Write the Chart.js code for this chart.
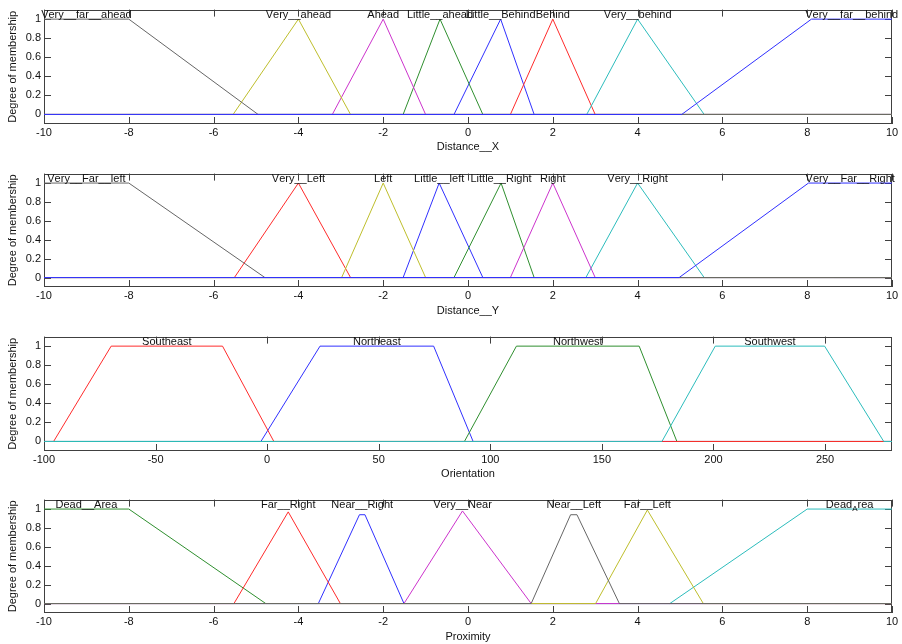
<!DOCTYPE html>
<html>
<head>
<meta charset="utf-8">
<script src="https://cdn.jsdelivr.net/npm/chart.js@4.4.1/dist/chart.umd.min.js"></script>
<style>
    html, body { margin: 0; padding: 0; background: #fff; overflow: hidden; }
    #wrap { position: relative; width: 902px; height: 644px; }
    .panel { position: absolute; left: 0; width: 902px; height: 163px; }
</style>
</head>
<body>
<div id="wrap">
    <div class="panel" style="top:0px"><canvas id="chartDistX" width="902" height="163"></canvas></div>
    <div class="panel" style="top:164px"><canvas id="chartDistY" width="902" height="163"></canvas></div>
    <div class="panel" style="top:327px"><canvas id="chartOrient" width="902" height="163"></canvas></div>
    <div class="panel" style="top:490px"><canvas id="chartProx" width="902" height="163"></canvas></div>
</div>
<script>
    /* DATA */

    var yTicks = [0, 0.2, 0.4, 0.6, 0.8, 1];
    var distTicks = [-10, -8, -6, -4, -2, 0, 2, 4, 6, 8, 10];
    var orientTicks = [-100, -50, 0, 50, 100, 150, 200, 250];
    var distRange = [-10, 10];
    var orientRange = [-100, 280];

    // membership functions, in the order they were defined (later ones are drawn on top)
    var distXNames = ['Little__Behind', 'Little__ahead', 'Behind', 'Very__behind', 'Ahead', 'Very__ahead', 'Very__far__ahead', 'Very__far__behind'];
    var distXShapes = [
        [[-0.33, 0], [0.77, 1], [1.56, 0]],
        [[-1.53, 0], [-0.66, 1], [0.35, 0]],
        [[1, 0], [2, 1], [3, 0]],
        [[2.8, 0], [4, 1], [5.57, 0]],
        [[-3.2, 0], [-2, 1], [-1, 0]],
        [[-5.54, 0], [-4, 1], [-2.77, 0]],
        [[-10, 1], [-8, 1], [-4.95, 0]],
        [[5.04, 0], [8.1, 1], [10, 1]]
    ];

    var distYNames = ['Little__left', 'Little__Right', 'Very__Left', 'Very__Right', 'Right', 'Left', 'Very__Far__left', 'Very__Far__Right'];
    var distYShapes = [
        [[-1.53, 0], [-0.68, 1], [0.35, 0]],
        [[-0.33, 0], [0.78, 1], [1.56, 0]],
        [[-5.51, 0], [-4, 1], [-2.77, 0]],
        [[2.78, 0], [4, 1], [5.57, 0]],
        [[1, 0], [2, 1], [3, 0]],
        [[-2.98, 0], [-2, 1], [-1, 0]],
        [[-10, 1], [-8, 1], [-4.79, 0]],
        [[4.98, 0], [8.03, 1], [10, 1]]
    ];

    var orientNames = ['Northeast', 'Northwest', 'Southeast', 'Southwest'];
    var orientShapes = [
        [[-2.8, 0], [23.7, 1], [74.6, 1], [92.3, 0]],
        [[88.4, 0], [111.7, 1], [166.7, 1], [183.6, 0]],
        [[-95.7, 0], [-69.9, 1], [-20, 1], [3, 0]],
        [[176.9, 0], [200.8, 1], [249.8, 1], [276.3, 0]]
    ];

    var proxNames = ['Near__Right', 'Dead__Area', 'Far__Right', 'Dead_Area', 'Very__Near', 'Far__Left', 'Near__Left'];
    var proxShapes = [
        [[-3.53, 0], [-2.56, 0.94], [-2.43, 0.94], [-1.51, 0]],
        [[-10, 1], [-8, 1], [-4.77, 0]],
        [[-5.52, 0], [-4.24, 0.97], [-3.01, 0]],
        [[4.76, 0], [8, 1], [10, 1]],
        [[-1.51, 0], [-0.13, 0.98], [1.49, 0]],
        [[3.01, 0], [4.23, 0.99], [5.55, 0]],
        [[1.49, 0], [2.42, 0.94], [2.57, 0.94], [3.57, 0]]
    ];

    /* STYLE */

    var colorOrder = ['#3030ff', '#2f8f2f', '#ff2b2b', '#2cbcbc', '#cc33cc', '#bebe2c', '#666666'];
    var textColor = '#111';

    Chart.defaults.font.family = "'Liberation Sans', Arial, sans-serif";
    Chart.defaults.font.size = 11;
    Chart.defaults.color = textColor;

    /* PRIVATE */

    var buildPoints = (verts, range) => {
        var pts = verts.map(v => ({ x: v[0], y: v[1] }));
        if (verts[0][0] > range[0]) pts.unshift({ x: range[0], y: 0 });
        if (verts[verts.length - 1][0] < range[1]) pts.push({ x: range[1], y: 0 });
        return pts;
    };

    // "_X" is drawn as a subscript X, "__" stays as it is
    var drawName = (ctx, text, cx, cy) => {
        var parts = [];
        for (var i = 0; i < text.length; i++) {
            var c = text[i];
            if (c === '_' && text[i + 1] && text[i + 1] !== '_' && text[i - 1] !== '_') {
                parts.push({ t: text[i + 1], sub: true });
                i++;
            } else {
                parts.push({ t: c, sub: false });
            }
        }
        var main = "11px 'Liberation Sans', Arial, sans-serif";
        var small = "8px 'Liberation Sans', Arial, sans-serif";
        var width = 0;
        parts.forEach(p => { ctx.font = p.sub ? small : main; p.w = ctx.measureText(p.t).width; width += p.w; });
        var px = cx - width / 2;
        ctx.textAlign = 'left';
        ctx.textBaseline = 'middle';
        parts.forEach(p => {
            ctx.font = p.sub ? small : main;
            ctx.fillText(p.t, px, p.sub ? cy + 4 : cy);
            px += p.w;
        });
    };

    var framePlugin = {
        id: 'mfFrame',
        beforeDatasetsDraw: (chart) => {
            var ctx = chart.ctx;
            var a = chart.chartArea;
            var x = chart.scales.x;
            var y = chart.scales.y;
            var len = 7;
            ctx.save();
            ctx.strokeStyle = '#404040';
            ctx.lineWidth = 1;
            ctx.strokeRect(Math.round(a.left) + 0.5, Math.round(a.top) + 0.5, Math.round(a.right - a.left) - 1, Math.round(a.bottom - a.top) - 1);
            ctx.beginPath();
            x.ticks.forEach(t => {
                var px = Math.round(x.getPixelForValue(t.value)) + 0.5;
                ctx.moveTo(px, a.bottom); ctx.lineTo(px, a.bottom - len);
                ctx.moveTo(px, a.top); ctx.lineTo(px, a.top + len);
            });
            y.ticks.forEach(t => {
                var py = Math.round(y.getPixelForValue(t.value)) + 0.5;
                ctx.moveTo(a.left, py); ctx.lineTo(a.left + len, py);
                ctx.moveTo(a.right, py); ctx.lineTo(a.right - len, py);
            });
            ctx.stroke();
            ctx.restore();
        }
    };

    var labelPlugin = {
        id: 'mfLabels',
        afterDatasetsDraw: (chart) => {
            var ctx = chart.ctx;
            var x = chart.scales.x;
            var y = chart.scales.y;
            ctx.save();
            ctx.fillStyle = textColor;
            chart.data.datasets.forEach(ds => {
                var top = Math.max(...ds.data.map(p => p.y));
                var peaks = ds.data.filter(p => p.y === top);
                var cx = peaks.reduce((s, p) => s + p.x, 0) / peaks.length;
                drawName(ctx, ds.label, x.getPixelForValue(cx), y.getPixelForValue(1.045));
            });
            ctx.restore();
        }
    };

    var makeChart = (canvasId, names, shapes, range, xTicks, title, plotHeight) => {
        var n = names.length;
        var datasets = names.map((name, i) => ({
            label: name,
            data: buildPoints(shapes[i], range),
            borderColor: colorOrder[i % colorOrder.length],
            borderWidth: 1,
            pointRadius: 0,
            tension: 0,
            fill: false,
            order: n - 1 - i
        }));

        return new Chart(document.getElementById(canvasId), {
            type: 'line',
            data: { datasets: datasets },
            options: {
                responsive: false,
                animation: false,
                events: [],
                layout: { padding: { top: 7, right: 10, left: 0, bottom: 0 } },
                plugins: { legend: { display: false }, tooltip: { enabled: false }, title: { display: false } },
                scales: {
                    x: {
                        type: 'linear',
                        min: range[0],
                        max: range[1],
                        afterBuildTicks: s => { s.ticks = xTicks.map(v => ({ value: v })); },
                        afterFit: s => { s.height = 163 - 7 - plotHeight; },
                        grid: { display: false, drawTicks: false },
                        border: { display: false },
                        ticks: { padding: 2, autoSkip: false, maxRotation: 0, minRotation: 0, callback: v => String(v) },
                        title: { display: true, text: title, padding: { top: 0, bottom: 9 } }
                    },
                    y: {
                        type: 'linear',
                        min: -0.1,
                        max: 1.1,
                        afterBuildTicks: s => { s.ticks = yTicks.map(v => ({ value: v })); },
                        afterFit: s => { s.width = 44; },
                        grid: { display: false, drawTicks: false },
                        border: { display: false },
                        ticks: { padding: 3, autoSkip: false, callback: v => String(v) },
                        title: { display: true, text: 'Degree of membership', padding: { top: 6, bottom: 0 } }
                    }
                }
            },
            plugins: [framePlugin, labelPlugin]
        });
    };

    makeChart('chartDistX', distXNames, distXShapes, distRange, distTicks, 'Distance__X', 117);
    makeChart('chartDistY', distYNames, distYShapes, distRange, distTicks, 'Distance__Y', 116);
    makeChart('chartOrient', orientNames, orientShapes, orientRange, orientTicks, 'Orientation', 117);
    makeChart('chartProx', proxNames, proxShapes, distRange, distTicks, 'Proximity', 116);
</script>
</body>
</html>
